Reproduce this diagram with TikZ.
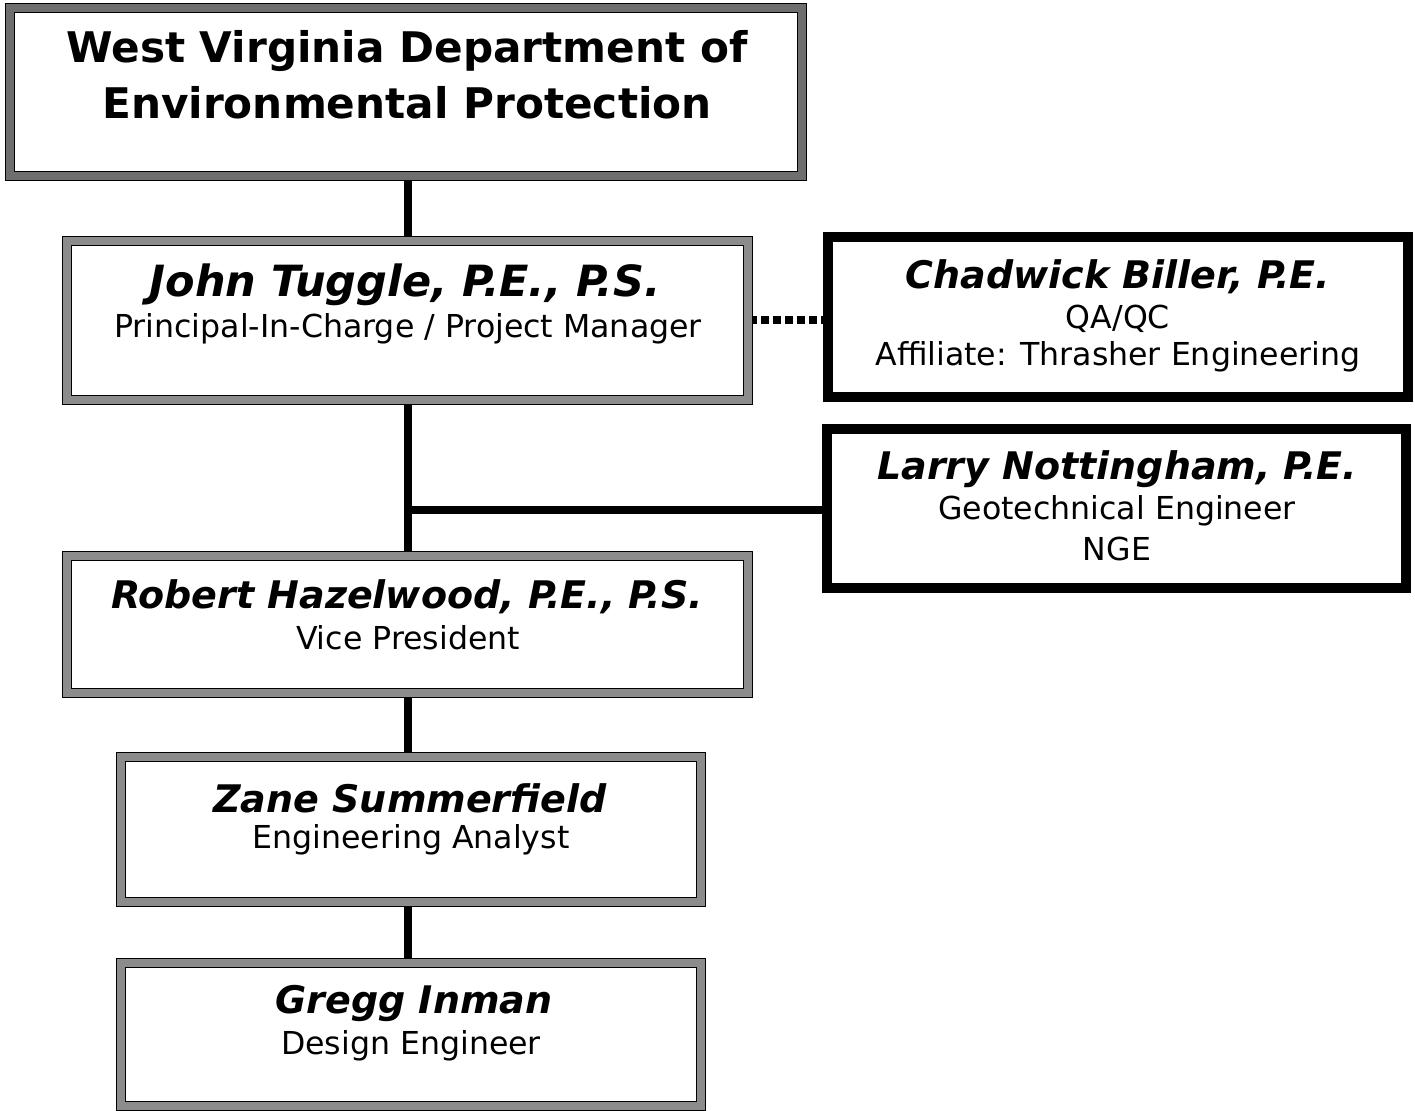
\documentclass[tikz,border=0pt]{standalone}
\usepackage{fontspec}
\setmainfont{DejaVu Sans}
\usetikzlibrary{backgrounds}
\definecolor{bandgray}{HTML}{8C8C8C}
\definecolor{banddark}{HTML}{6E6E6E}
\begin{document}
\begin{tikzpicture}[x=0.5pt,y=-0.5pt,
  graybox/.style={draw=black, line width=0.6pt, double=bandgray, double distance=3.8pt, fill=white, inner sep=0pt},
  darkbox/.style={draw=black, line width=0.6pt, double=banddark, double distance=3.8pt, fill=white, inner sep=0pt},
  blackbox/.style={draw=black, line width=5pt, fill=white, inner sep=0pt},
  nametext/.style={font=\fontsize{19}{22}\selectfont\bfseries\itshape, inner sep=0pt, anchor=center},
  bignametext/.style={font=\fontsize{21.5}{25}\selectfont\bfseries\itshape, inner sep=0pt, anchor=center},
  roletext/.style={font=\fontsize{15.8}{18}\selectfont, inner sep=0pt, anchor=center},
  titletext/.style={font=\fontsize{21.1}{26}\selectfont\bfseries, inner sep=0pt, anchor=center},
  conn/.style={line width=4pt},
  dotconn/.style={line width=4pt, dash pattern=on 4pt off 2pt}
]
\useasboundingbox (0,0) rectangle (1415,1111);

\node[darkbox, minimum width=396pt, minimum height=84pt] (wv) at (406,92) {};
\node[graybox, minimum width=340.5pt, minimum height=79.5pt] (john) at (407.5,320.5) {};
\node[blackbox, minimum width=290pt, minimum height=80pt] (chad) at (1118,317) {};
\node[blackbox, minimum width=289.5pt, minimum height=79.5pt] (larry) at (1116.5,508.5) {};
\node[graybox, minimum width=340.5pt, minimum height=68.5pt] (robert) at (407.5,624.5) {};
\node[graybox, minimum width=290pt, minimum height=72.5pt] (zane) at (411,829.5) {};
\node[graybox, minimum width=290pt, minimum height=71.5pt] (gregg) at (411,1034.5) {};

\begin{scope}[on background layer]
\draw[conn] (wv.south -| 408,0) -- (john.north -| 408,0);
\draw[conn] (john.south -| 408,0) -- (robert.north -| 408,0);
\coordinate (j) at (408,510);
\draw[conn] (j) -- (larry.west |- j);
\draw[conn] (robert.south -| 408,0) -- (zane.north -| 408,0);
\draw[conn] (zane.south -| 408,0) -- (gregg.north -| 408,0);
\draw[dotconn] (john.east) -- (john.east -| chad.west);
\end{scope}

\node[titletext] (t1) at (407,51) {West Virginia Department of};
\node[titletext] (t2) at (407,103) {Environmental Protection};

\node[bignametext] (jn) at (405,285) {John Tuggle, P.E., P.S.};
\node[roletext] (jr) at (408,329) {Principal-In-Charge / Project Manager};

\node[nametext] (cn) at (1118,277) {Chadwick Biller, P.E.};
\node[roletext] (cr1) at (1118,319) {QA/QC};
\node[roletext] (cr2) at (1118,357) {Affiliate: Thrasher Engineering};

\node[nametext] (ln) at (1117,469) {Larry Nottingham, P.E.};
\node[roletext] (lr1) at (1117,511) {Geotechnical Engineer};
\node[roletext] (lr2) at (1117,549) {NGE};

\node[nametext] (rn) at (407,597) {Robert Hazelwood, P.E., P.S.};
\node[roletext] (rr) at (408,638) {Vice President};

\node[nametext] (zn) at (410,798) {Zane Summerfield};
\node[roletext] (zr) at (411,840) {Engineering Analyst};

\node[nametext] (gn) at (414,1004) {Gregg Inman};
\node[roletext] (gr) at (411,1046) {Design Engineer};
\end{tikzpicture}
\end{document}
